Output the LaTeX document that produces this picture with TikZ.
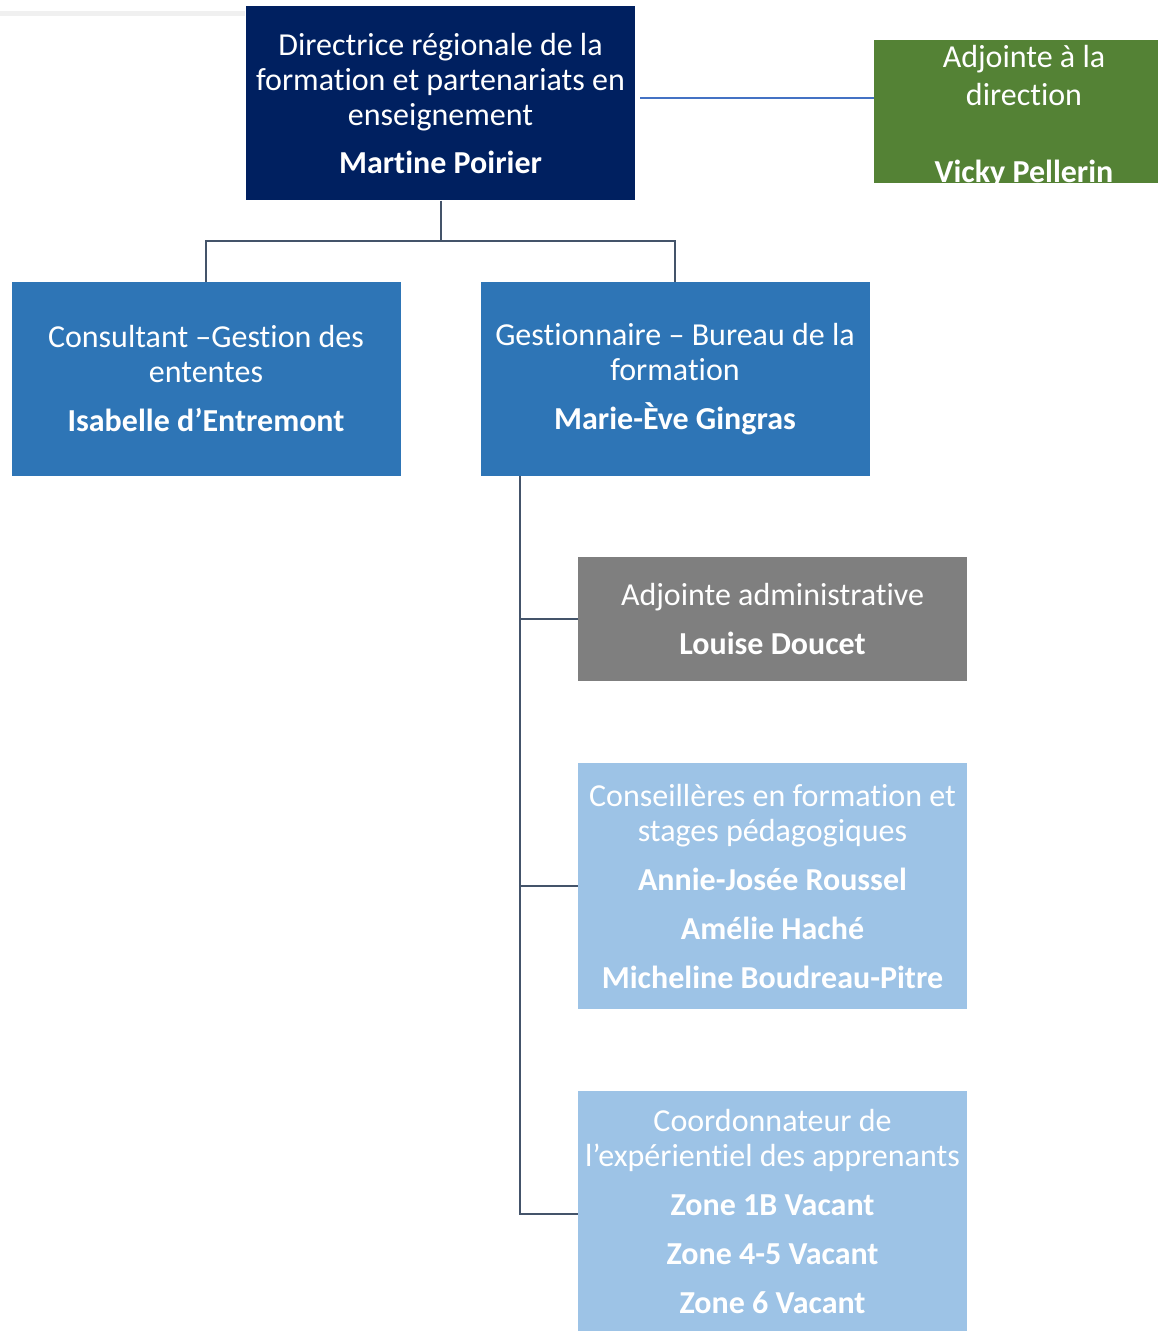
\documentclass[tikz,border=0pt]{standalone}
\usepackage{fontspec}
\setmainfont[Ligatures=NoCommon]{Carlito}
\definecolor{navy}{HTML}{002060}
\definecolor{leafgreen}{HTML}{548235}
\definecolor{midblue}{HTML}{2E75B6}
\definecolor{boxgrey}{HTML}{7F7F7F}
\definecolor{paleblue}{HTML}{9DC3E6}
\definecolor{slate}{HTML}{44546A}
\definecolor{linkblue}{HTML}{4472C4}
\newcommand{\nm}[1]{\textbf{#1}}
\begin{document}
\begin{tikzpicture}[x=1pt, y=-1pt,
   post/.style={inner sep=0pt, text=white, align=center, minimum width=389pt,
                font=\fontsize{32}{35}\selectfont},
   conn/.style={draw=slate, line width=2pt}]
   \useasboundingbox (0,0) rectangle (1158,1332);
   \draw [black!6, line width=5pt] (0,14) -- (245,14);

   \node [post, fill=navy, minimum height=194pt] (dir) at (440.5,103.5)
      {Directrice régionale de la\\formation et partenariats en\\enseignement\\[13pt]\nm{Martine Poirier}};
   \node [post, fill=leafgreen, minimum width=284pt, minimum height=143pt] (adj) at (1016,111.5) {};
   \node [post, font=\fontsize{32}{38}\selectfont] (adjname) at ([shift={(8pt,-5pt)}]adj.center)
      {Adjointe à la\\direction\\~\\[1pt]\nm{Vicky Pellerin}};
   \node [post, fill=midblue, minimum height=194pt] (cons) at (206,379)
      {Consultant –Gestion des\\ententes\\[14pt]\nm{Isabelle d’Entremont}};
   \node [post, fill=midblue, minimum height=194pt] (gest) at (675,379)
      {Gestionnaire – Bureau de la\\formation\\[14pt]\nm{Marie-Ève Gingras}};
   \node [post, fill=boxgrey, minimum height=124pt] (adm) at (772.5,619)
      {Adjointe administrative\\[14pt]\nm{Louise Doucet}};
   \node [post, fill=paleblue, minimum height=246pt] (csl) at (772.5,886)
      {Conseillères en formation et\\stages pédagogiques\\[14pt]\nm{Annie-Josée Roussel}\\[14pt]\nm{Amélie Haché}\\[14pt]\nm{Micheline Boudreau-Pitre}};
   \node [post, fill=paleblue, minimum height=240pt] (coord) at (772.5,1211)
      {Coordonnateur de\\l’expérientiel des apprenants\\[14pt]\nm{Zone 1B Vacant}\\[14pt]\nm{Zone 4-5 Vacant}\\[14pt]\nm{Zone 6 Vacant}};

   \coordinate (split) at (440.5,241);
   \coordinate (trunk) at (520,476);
   \draw [conn] (dir.south) -- (split) -| (cons.north);
   \draw [conn] (split) -| (gest.north);
   \draw [conn] (trunk) |- (adm.west);
   \draw [conn] (trunk) |- (csl.west);
   \draw [conn] (trunk) |- ([yshift=-3pt]coord.west);
   \draw [linkblue, line width=1.2pt] ([shift={(5,-5.5)}]dir.east) -- ([shift={(0,-13.5)}]adj.west);
\end{tikzpicture}
\end{document}
